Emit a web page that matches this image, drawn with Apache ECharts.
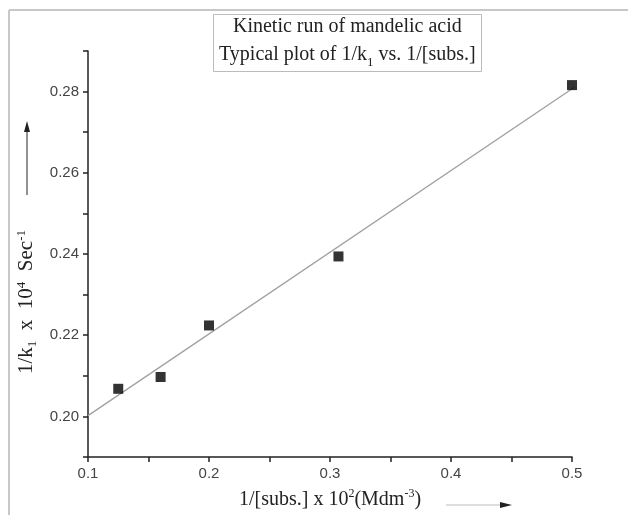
<!DOCTYPE html>
<html>
<head>
<meta charset="utf-8">
<script src="https://cdn.jsdelivr.net/npm/echarts@6/dist/echarts.min.js"></script>
<style>
  html, body { margin: 0; padding: 0; background: #fff; }
  #main { width: 628px; height: 515px; }
</style>
</head>
<body>
<div id="main"></div>
<script>
// measured points: 1/[subs.] x 10^2 vs 1/k1 x 10^4
var subsInv = [0.125, 0.16, 0.2, 0.307, 0.5];
var kInv = [0.2068, 0.2097, 0.2224, 0.2394, 0.2816];
// fitted straight line, end points
var fitX = [0.1, 0.508];
var fitY = [0.2002, 0.2823];

var xTicks = [0.1, 0.2, 0.3, 0.4, 0.5];
var yTicks = [0.20, 0.22, 0.24, 0.26, 0.28];

var chart = echarts.init(document.getElementById('main'));

var serif = '"Liberation Serif", "DejaVu Serif", serif';
var sans = '"Liberation Sans", Arial, sans-serif';

function txt(size, lh) {
  return { fontFamily: serif, fontSize: size, fontWeight: 'normal', color: '#222', lineHeight: lh };
}

var option = {
  backgroundColor: '#fff',
  animation: false,
  title: {
    left: 213,
    top: 10,
    padding: [3, 6, 3, 6],
    borderColor: '#bbb',
    borderWidth: 1,
    backgroundColor: '#fff',
    text: '{t|Kinetic run of mandelic acid}\n{t|Typical plot of 1/k}{sub|1}{t| vs. 1/[subs.]}',
    textStyle: {
      fontWeight: 'normal',
      align: 'center',
      rich: {
        t: Object.assign(txt(20, 28), { align: 'center' }),
        sub: Object.assign(txt(13, 28), { align: 'center', verticalAlign: 'bottom', padding: [9, 0, 0, 0] })
      }
    }
  },
  grid: { left: 88, right: 56, top: 51, bottom: 55, containLabel: false },
  xAxis: {
    type: 'value',
    min: 0.1,
    max: 0.5,
    interval: 0.05,
    name: '{t|1/[subs.] x 10}{sup|2}{t|(Mdm}{sup|-3}{t|)}',
    nameLocation: 'middle',
    nameGap: 31,
    nameTextStyle: {
      verticalAlign: 'top',
      rich: {
        t: txt(20, 24),
        sup: Object.assign(txt(12, 24), { verticalAlign: 'top', padding: [0, 0, 9, 0] })
      }
    },
    axisLine: { lineStyle: { color: '#222', width: 1.5 } },
    axisTick: { show: true, inside: false, length: 5, lineStyle: { color: '#222', width: 1.5 } },
    axisLabel: {
      fontFamily: sans, fontSize: 15, color: '#444', margin: 9,
      formatter: function (v) {
        var hit = xTicks.find(function (t) { return Math.abs(t - v) < 1e-6; });
        return hit !== undefined ? String(hit) : '';
      }
    },
    splitLine: { show: false }
  },
  yAxis: {
    type: 'value',
    min: 0.19,
    max: 0.29,
    interval: 0.01,
    name: '{t|1/k}{sub|1}{t|  x  10}{sup|4}{t|  Sec}{sup|-1}',
    nameLocation: 'middle',
    nameRotate: 90,
    nameGap: 48,
    nameTextStyle: {
      padding: [0, 96, 0, 0],
      rich: {
        t: txt(21, 24),
        sup: Object.assign(txt(13, 24), { verticalAlign: 'top', padding: [0, 0, 9, 0] }),
        sub: Object.assign(txt(13, 24), { verticalAlign: 'bottom', padding: [9, 0, 0, 0] })
      }
    },
    axisLine: { lineStyle: { color: '#222', width: 1.5 } },
    axisTick: { show: true, inside: false, length: 5, lineStyle: { color: '#222', width: 1.5 } },
    axisLabel: {
      fontFamily: sans, fontSize: 15, color: '#444', margin: 9,
      formatter: function (v) {
        var hit = yTicks.find(function (t) { return Math.abs(t - v) < 1e-6; });
        return hit !== undefined ? hit.toFixed(2) : '';
      }
    },
    splitLine: { show: false }
  },
  series: [
    {
      name: 'fit',
      type: 'line',
      data: fitX.map(function (x, i) { return [x, fitY[i]]; }),
      showSymbol: false,
      lineStyle: { color: '#a0a0a0', width: 1.3 },
      z: 2
    },
    {
      name: 'data',
      type: 'scatter',
      data: subsInv.map(function (x, i) { return [x, kInv[i]]; }),
      symbol: 'rect',
      symbolSize: 10,
      itemStyle: { color: '#000' },
      z: 3
    }
  ],
  graphic: [
    // picture frame (left and top edges)
    { type: 'line', shape: { x1: 9, y1: 10, x2: 9, y2: 515 }, style: { stroke: '#c8c8c8', lineWidth: 2 } },
    { type: 'line', shape: { x1: 9, y1: 10, x2: 628, y2: 10 }, style: { stroke: '#c8c8c8', lineWidth: 2 } },
    // arrow beside the y axis name
    { type: 'line', shape: { x1: 27, y1: 195, x2: 27, y2: 130 }, style: { stroke: '#222', lineWidth: 1 } },
    { type: 'polygon', shape: { points: [[24, 132], [30, 132], [27, 121]] }, style: { fill: '#222' } },
    // arrow beside the x axis name
    { type: 'line', shape: { x1: 446, y1: 505, x2: 505, y2: 505 }, style: { stroke: '#bbb', lineWidth: 1 } },
    { type: 'polygon', shape: { points: [[500, 502], [500, 508], [512, 505]] }, style: { fill: '#222' } }
  ]
};

chart.setOption(option);
</script>
</body>
</html>
